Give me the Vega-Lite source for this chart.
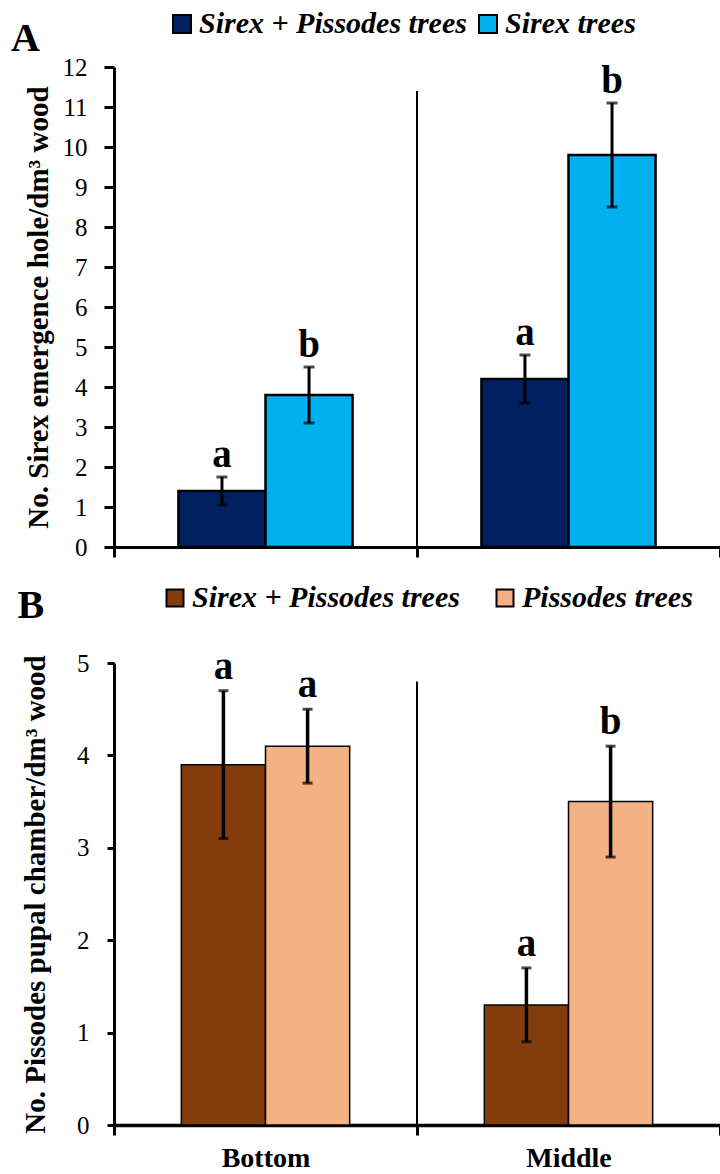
{
  "$schema": "https://vega.github.io/schema/vega-lite/v6.json",
  "background": "white",
  "padding": {"left": 11, "top": 9, "right": 0, "bottom": 0},
  "spacing": 23,
  "resolve": {"scale": {"color": "independent", "xOffset": "independent"}, "legend": {"color": "independent"}},
  "config": {
    "font": "Liberation Serif",
    "view": {"stroke": null},
    "style": {"guide-label": {"font": "Liberation Serif", "fill": "black"}, "guide-title": {"font": "Liberation Serif", "fill": "black"}},
    "axis": {"domainColor": "black", "tickColor": "black", "labelColor": "black", "titleColor": "black", "grid": false, "labelFont": "Liberation Serif", "titleFont": "Liberation Serif"},
    "legend": {"padding": 0, "labelFont": "Liberation Serif", "labelFontSize": 30, "labelFontStyle": "italic", "labelFontWeight": "bold", "labelColor": "black", "symbolType": "square", "symbolStrokeColor": "black", "symbolStrokeWidth": 2, "symbolOpacity": 1, "labelLimit": 0, "labelOffset": 2, "direction": "horizontal", "orient": "none", "title": null},
    "title": {"font": "Liberation Serif", "fontSize": 40, "fontWeight": "bold", "color": "black", "anchor": "start", "frame": "bounds"}
  },
  "vconcat": [
    {
      "width": 606,
      "height": 480,
      "title": {"text": "A", "dx": -13, "dy": 50, "offset": 0},
      "data": {"values": [
        {"site": "Bottom", "trees": "Sirex + Pissodes trees", "mean": 1.4, "lo": 1.05, "hi": 1.75, "letter": "a"},
        {"site": "Bottom", "trees": "Sirex trees", "mean": 3.8, "lo": 3.1, "hi": 4.5, "letter": "b"},
        {"site": "Middle", "trees": "Sirex + Pissodes trees", "mean": 4.2, "lo": 3.6, "hi": 4.8, "letter": "a"},
        {"site": "Middle", "trees": "Sirex trees", "mean": 9.8, "lo": 8.5, "hi": 11.1, "letter": "b"}
      ]},
      "encoding": {
        "x": {"field": "site", "type": "nominal", "sort": ["Bottom", "Middle"], "scale": {"paddingInner": 0, "paddingOuter": 0},
              "axis": {"title": null, "labels": false, "domainWidth": 3, "tickBand": "extent", "tickSize": 10, "tickWidth": 3}},
        "xOffset": {"field": "trees", "type": "nominal", "sort": ["Sirex + Pissodes trees", "Sirex trees"], "scale": {"paddingInner": 0, "paddingOuter": 0.74}}
      },
      "layer": [
        {
          "mark": {"type": "bar", "stroke": "black", "strokeWidth": 2.5},
          "encoding": {
            "y": {"field": "mean", "type": "quantitative", "scale": {"domain": [0, 12], "nice": false},
                  "title": "No. Sirex emergence hole/dm³ wood",
                  "axis": {"values": [0,1,2,3,4,5,6,7,8,9,10,11,12], "format": "d", "labelOverlap": false, "labelFont": "Liberation Serif", "labelFontSize": 25, "labelPadding": 17, "tickSize": 10, "tickWidth": 3, "domainWidth": 3, "titleFont": "Liberation Serif", "titleFontSize": 29, "titleFontWeight": "bold", "titlePadding": 9}},
            "color": {"field": "trees", "type": "nominal", "scale": {"domain": ["Sirex + Pissodes trees", "Sirex trees"], "range": ["#002060", "#00B0F0"]},
                      "legend": {"legendX": 53, "legendY": -58, "columnPadding": 6, "symbolSize": 324}}
          }
        },
        {
          "mark": {"type": "rule", "color": "black", "strokeWidth": 3},
          "encoding": {
            "y": {"field": "lo", "type": "quantitative", "title": "No. Sirex emergence hole/dm³ wood",
                  "axis": {"values": [0,1,2,3,4,5,6,7,8,9,10,11,12], "format": "d", "labelOverlap": false, "labelFont": "Liberation Serif", "labelFontSize": 25, "labelPadding": 17, "tickSize": 10, "tickWidth": 3, "domainWidth": 3, "titleFont": "Liberation Serif", "titleFontSize": 29, "titleFontWeight": "bold", "titlePadding": 9}},
            "y2": {"field": "hi"}
          }
        },
        {
          "mark": {"type": "tick", "color": "black", "thickness": 3, "size": 11, "orient": "horizontal"},
          "encoding": {"y": {"field": "lo", "type": "quantitative", "title": "No. Sirex emergence hole/dm³ wood",
                  "axis": {"values": [0,1,2,3,4,5,6,7,8,9,10,11,12], "format": "d", "labelOverlap": false, "labelFont": "Liberation Serif", "labelFontSize": 25, "labelPadding": 17, "tickSize": 10, "tickWidth": 3, "domainWidth": 3, "titleFont": "Liberation Serif", "titleFontSize": 29, "titleFontWeight": "bold", "titlePadding": 9}}}
        },
        {
          "mark": {"type": "tick", "color": "black", "thickness": 3, "size": 11, "orient": "horizontal"},
          "encoding": {"y": {"field": "hi", "type": "quantitative", "title": "No. Sirex emergence hole/dm³ wood",
                  "axis": {"values": [0,1,2,3,4,5,6,7,8,9,10,11,12], "format": "d", "labelOverlap": false, "labelFont": "Liberation Serif", "labelFontSize": 25, "labelPadding": 17, "tickSize": 10, "tickWidth": 3, "domainWidth": 3, "titleFont": "Liberation Serif", "titleFontSize": 29, "titleFontWeight": "bold", "titlePadding": 9}}}
        },
        {
          "mark": {"type": "text", "font": "Liberation Serif", "fontSize": 39, "fontWeight": "bold", "color": "black", "baseline": "alphabetic", "dy": -10},
          "encoding": {
            "y": {"field": "hi", "type": "quantitative", "title": "No. Sirex emergence hole/dm³ wood",
                  "axis": {"values": [0,1,2,3,4,5,6,7,8,9,10,11,12], "format": "d", "labelOverlap": false, "labelFont": "Liberation Serif", "labelFontSize": 25, "labelPadding": 17, "tickSize": 10, "tickWidth": 3, "domainWidth": 3, "titleFont": "Liberation Serif", "titleFontSize": 29, "titleFontWeight": "bold", "titlePadding": 9}},
            "text": {"field": "letter"}
          }
        },
        {
          "data": {"values": [{}]},
          "mark": {"type": "rule", "color": "black", "strokeWidth": 2},
          "encoding": {
            "x": {"datum": "Middle", "bandPosition": 0, "type": "nominal", "scale": {"paddingInner": 0, "paddingOuter": 0},
                  "axis": {"title": null, "labels": false, "domainWidth": 3, "tickBand": "extent", "tickSize": 10, "tickWidth": 3}},
            "xOffset": null,
            "y": {"datum": 0, "type": "quantitative", "title": "No. Sirex emergence hole/dm³ wood",
                  "axis": {"values": [0,1,2,3,4,5,6,7,8,9,10,11,12], "format": "d", "labelOverlap": false, "labelFont": "Liberation Serif", "labelFontSize": 25, "labelPadding": 17, "tickSize": 10, "tickWidth": 3, "domainWidth": 3, "titleFont": "Liberation Serif", "titleFontSize": 29, "titleFontWeight": "bold", "titlePadding": 9}},
            "y2": {"datum": 11.4}
          }
        }
      ]
    },
    {
      "width": 606,
      "height": 462,
      "title": {"text": "B", "dx": -4, "dy": 43, "offset": 0},
      "data": {"values": [
        {"site": "Bottom", "trees": "Sirex + Pissodes trees", "mean": 3.9, "lo": 3.1, "hi": 4.7, "letter": "a"},
        {"site": "Bottom", "trees": "Pissodes trees", "mean": 4.1, "lo": 3.7, "hi": 4.5, "letter": "a"},
        {"site": "Middle", "trees": "Sirex + Pissodes trees", "mean": 1.3, "lo": 0.9, "hi": 1.7, "letter": "a"},
        {"site": "Middle", "trees": "Pissodes trees", "mean": 3.5, "lo": 2.9, "hi": 4.1, "letter": "b"}
      ]},
      "encoding": {
        "x": {"field": "site", "type": "nominal", "sort": ["Bottom", "Middle"], "scale": {"paddingInner": 0, "paddingOuter": 0},
              "axis": {"title": null, "labelFont": "Liberation Serif", "labelFontSize": 28, "labelFontWeight": "bold", "labelAngle": 0, "labelPadding": 9, "domainWidth": 3.5, "tickBand": "extent", "tickSize": 10, "tickWidth": 3}},
        "xOffset": {"field": "trees", "type": "nominal", "sort": ["Sirex + Pissodes trees", "Pissodes trees"], "scale": {"paddingInner": 0, "paddingOuter": 0.8}}
      },
      "layer": [
        {
          "mark": {"type": "bar", "stroke": "black", "strokeWidth": 1.5},
          "encoding": {
            "y": {"field": "mean", "type": "quantitative", "scale": {"domain": [0, 5], "nice": false},
                  "title": "No. Pissodes pupal chamber/dm³ wood",
                  "axis": {"values": [0,1,2,3,4,5], "format": "d", "labelOverlap": false, "labelFont": "Liberation Serif", "labelFontSize": 25, "labelPadding": 18, "tickSize": 7, "tickWidth": 3, "domainWidth": 3, "titleFont": "Liberation Serif", "titleFontSize": 29, "titleFontWeight": "bold", "titlePadding": 26}},
            "color": {"field": "trees", "type": "nominal", "scale": {"domain": ["Sirex + Pissodes trees", "Pissodes trees"], "range": ["#843C0C", "#F4B183"]},
                      "legend": {"legendX": 46, "legendY": -80, "columnPadding": 30, "symbolSize": 289}}
          }
        },
        {
          "mark": {"type": "rule", "color": "black", "strokeWidth": 3.5},
          "encoding": {
            "y": {"field": "lo", "type": "quantitative", "title": "No. Pissodes pupal chamber/dm³ wood",
                  "axis": {"values": [0,1,2,3,4,5], "format": "d", "labelOverlap": false, "labelFont": "Liberation Serif", "labelFontSize": 25, "labelPadding": 18, "tickSize": 7, "tickWidth": 3, "domainWidth": 3, "titleFont": "Liberation Serif", "titleFontSize": 29, "titleFontWeight": "bold", "titlePadding": 26}},
            "y2": {"field": "hi"}
          }
        },
        {
          "mark": {"type": "tick", "color": "black", "thickness": 3, "size": 10, "orient": "horizontal"},
          "encoding": {"y": {"field": "lo", "type": "quantitative", "title": "No. Pissodes pupal chamber/dm³ wood",
                  "axis": {"values": [0,1,2,3,4,5], "format": "d", "labelOverlap": false, "labelFont": "Liberation Serif", "labelFontSize": 25, "labelPadding": 18, "tickSize": 7, "tickWidth": 3, "domainWidth": 3, "titleFont": "Liberation Serif", "titleFontSize": 29, "titleFontWeight": "bold", "titlePadding": 26}}}
        },
        {
          "mark": {"type": "tick", "color": "black", "thickness": 3, "size": 10, "orient": "horizontal"},
          "encoding": {"y": {"field": "hi", "type": "quantitative", "title": "No. Pissodes pupal chamber/dm³ wood",
                  "axis": {"values": [0,1,2,3,4,5], "format": "d", "labelOverlap": false, "labelFont": "Liberation Serif", "labelFontSize": 25, "labelPadding": 18, "tickSize": 7, "tickWidth": 3, "domainWidth": 3, "titleFont": "Liberation Serif", "titleFontSize": 29, "titleFontWeight": "bold", "titlePadding": 26}}}
        },
        {
          "mark": {"type": "text", "font": "Liberation Serif", "fontSize": 39, "fontWeight": "bold", "color": "black", "baseline": "alphabetic", "dy": -12},
          "encoding": {
            "y": {"field": "hi", "type": "quantitative", "title": "No. Pissodes pupal chamber/dm³ wood",
                  "axis": {"values": [0,1,2,3,4,5], "format": "d", "labelOverlap": false, "labelFont": "Liberation Serif", "labelFontSize": 25, "labelPadding": 18, "tickSize": 7, "tickWidth": 3, "domainWidth": 3, "titleFont": "Liberation Serif", "titleFontSize": 29, "titleFontWeight": "bold", "titlePadding": 26}},
            "text": {"field": "letter"}
          }
        },
        {
          "data": {"values": [{}]},
          "mark": {"type": "rule", "color": "black", "strokeWidth": 2},
          "encoding": {
            "x": {"datum": "Middle", "bandPosition": 0, "type": "nominal", "scale": {"paddingInner": 0, "paddingOuter": 0},
                  "axis": {"title": null, "labelFont": "Liberation Serif", "labelFontSize": 28, "labelFontWeight": "bold", "labelAngle": 0, "labelPadding": 9, "domainWidth": 3.5, "tickBand": "extent", "tickSize": 10, "tickWidth": 3}},
            "xOffset": null,
            "y": {"datum": 0, "type": "quantitative", "title": "No. Pissodes pupal chamber/dm³ wood",
                  "axis": {"values": [0,1,2,3,4,5], "format": "d", "labelOverlap": false, "labelFont": "Liberation Serif", "labelFontSize": 25, "labelPadding": 18, "tickSize": 7, "tickWidth": 3, "domainWidth": 3, "titleFont": "Liberation Serif", "titleFontSize": 29, "titleFontWeight": "bold", "titlePadding": 26}},
            "y2": {"datum": 4.8}
          }
        }
      ]
    }
  ]
}
